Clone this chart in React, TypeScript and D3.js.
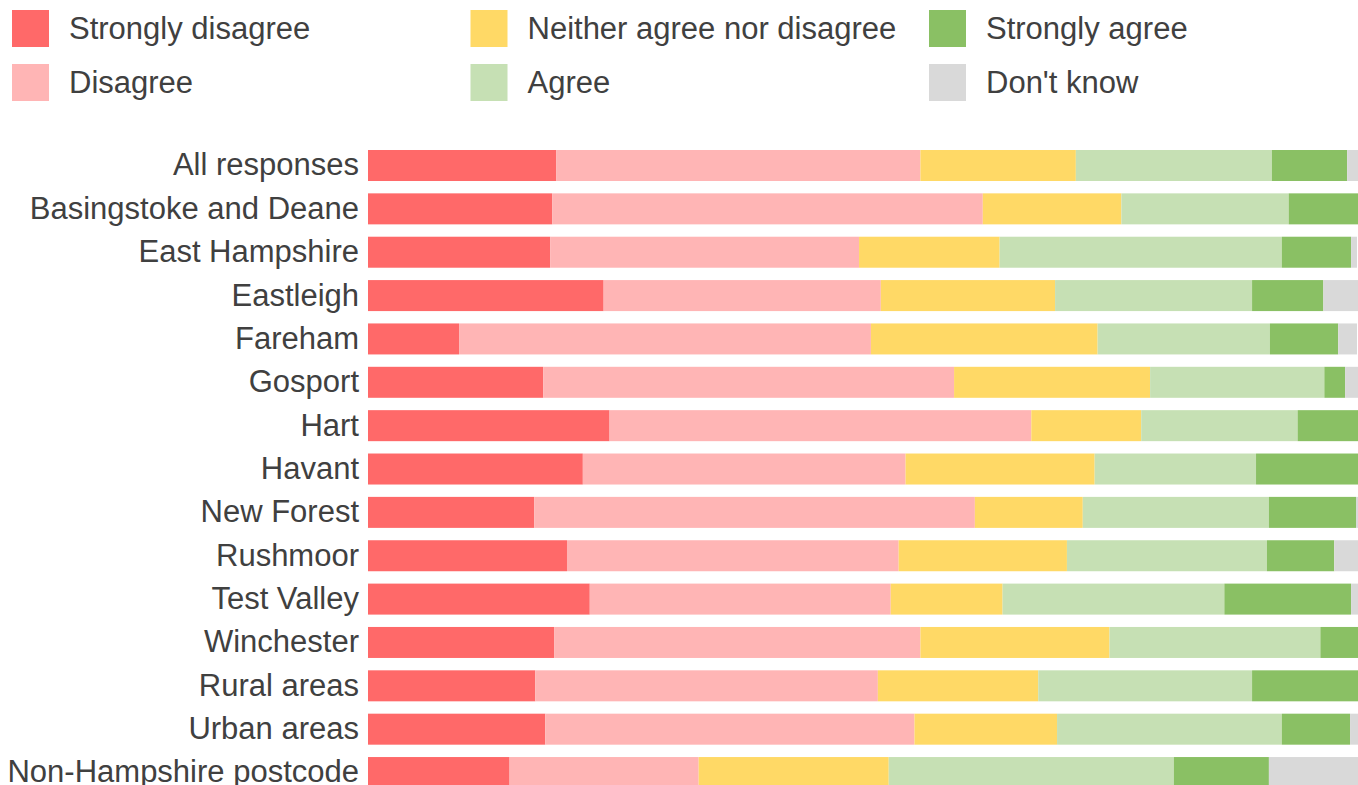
import React, { useEffect, useRef } from 'react';
import * as d3 from 'd3';

const categories = [
  'All responses',
  'Basingstoke and Deane',
  'East Hampshire',
  'Eastleigh',
  'Fareham',
  'Gosport',
  'Hart',
  'Havant',
  'New Forest',
  'Rushmoor',
  'Test Valley',
  'Winchester',
  'Rural areas',
  'Urban areas',
  'Non-Hampshire postcode',
];

const responseKeys = [
  'Strongly disagree',
  'Disagree',
  'Neither agree nor disagree',
  'Agree',
  'Strongly agree',
  "Don't know",
];

// percentages per category, same order as categories
const stronglyDisagree = [19.0, 18.6, 18.4, 23.8, 9.2, 17.7, 24.4, 21.7, 16.8, 20.1, 22.4, 18.8, 16.9, 17.9, 14.3];
const disagree = [36.8, 43.5, 31.2, 28.0, 41.6, 41.5, 42.6, 32.6, 44.5, 33.5, 30.4, 37.0, 34.6, 37.3, 19.1];
const neither = [15.7, 14.0, 14.2, 17.6, 22.9, 19.8, 11.1, 19.1, 10.9, 17.0, 11.3, 19.1, 16.2, 14.4, 19.2];
const agree = [19.8, 16.9, 28.5, 19.9, 17.4, 17.6, 15.8, 16.3, 18.8, 20.2, 22.4, 21.3, 21.6, 22.7, 28.8];
const stronglyAgree = [7.6, 7.1, 7.0, 7.2, 6.9, 2.1, 6.1, 10.3, 8.8, 6.8, 12.8, 3.8, 10.7, 6.9, 9.6];
const dontKnow = [1.1, 0, 0.6, 3.5, 1.9, 1.3, 0, 0, 0.3, 2.5, 0.8, 0, 0, 0.8, 9.0];

const colors = ['#ff6969', '#ffb5b5', '#ffd966', '#c6e0b4', '#8ac064', '#d9d9d9'];

const App: React.FC = () => {
  const svgRef = useRef<SVGSVGElement | null>(null);

  useEffect(() => {
    const svg = d3.select(svgRef.current);
    svg.selectAll('*').remove();

    const width = 1358;
    const height = 785;
    const font = '"Liberation Sans", Arial, sans-serif';
    const textColor = '#404040';

    svg.attr('width', width).attr('height', height);

    const series = [stronglyDisagree, disagree, neither, agree, stronglyAgree, dontKnow];
    const rows = categories.map((name, i) => {
      const row: Record<string, any> = { name };
      responseKeys.forEach((k, j) => (row[k] = series[j][i]));
      return row;
    });

    const stacked = d3.stack<Record<string, any>>().keys(responseKeys)(rows);

    const x = d3.scaleLinear().domain([0, 100]).range([368, 1358]);
    const step = 43.36;
    const y = d3
      .scaleBand<string>()
      .domain(categories)
      .range([150 - 0.1425 * step, 150 - 0.1425 * step + 15 * step])
      .paddingInner(0.285)
      .paddingOuter(0.1425);

    const color = d3.scaleOrdinal<string, string>().domain(responseKeys).range(colors);

    // bars
    svg
      .append('g')
      .selectAll('g')
      .data(stacked)
      .join('g')
      .attr('fill', (d) => color(d.key))
      .selectAll('rect')
      .data((d) => d)
      .join('rect')
      .attr('x', (d) => x(d[0]))
      .attr('y', (d) => y(d.data.name)!)
      .attr('width', (d) => Math.max(0, x(d[1]) - x(d[0])))
      .attr('height', y.bandwidth());

    // category labels
    svg
      .append('g')
      .selectAll('text')
      .data(categories)
      .join('text')
      .attr('x', 359)
      .attr('y', (d) => y(d)! + y.bandwidth() / 2)
      .attr('dy', '0.32em')
      .attr('text-anchor', 'end')
      .attr('font-family', font)
      .attr('font-size', 31)
      .attr('fill', textColor)
      .text((d) => d);

    // legend, three columns of two
    const legend = svg
      .append('g')
      .selectAll('g')
      .data(responseKeys)
      .join('g')
      .attr('transform', (d, i) => `translate(${12 + Math.floor(i / 2) * 458.5}, ${10 + (i % 2) * 54})`);

    legend
      .append('rect')
      .attr('width', 37)
      .attr('height', 37)
      .attr('fill', (d) => color(d));

    legend
      .append('text')
      .attr('x', 57)
      .attr('y', 18.5)
      .attr('dy', '0.35em')
      .attr('font-family', font)
      .attr('font-size', 31)
      .attr('fill', textColor)
      .text((d) => d);
  }, []);

  return <svg ref={svgRef} style={{ position: 'absolute', left: 0, top: 0, display: 'block' }}></svg>;
};

export default App;
